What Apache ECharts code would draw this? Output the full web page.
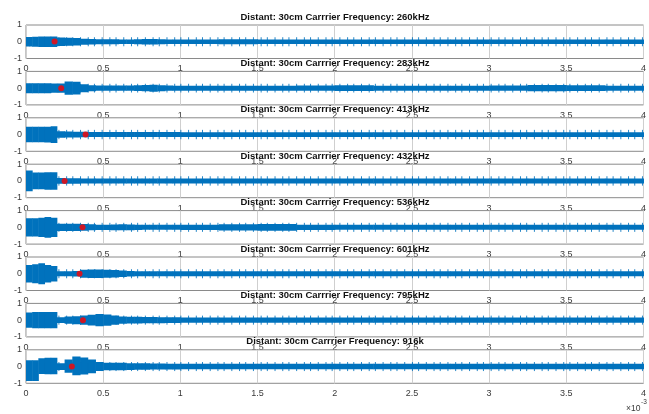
<!DOCTYPE html>
<html>
<head>
<meta charset="utf-8">
<script src="https://cdn.jsdelivr.net/npm/echarts@6/dist/echarts.min.js"></script>
<style>html,body{margin:0;padding:0;background:#fff}#c{width:649px;height:414px}</style>
</head>
<body>
<div id="c"></div>
<script>
// ---- data (time in units of 1e-3 s) ----
const titles = [
  'Distant: 30cm Carrrier Frequency: 260kHz',
  'Distant: 30cm Carrrier Frequency: 283kHz',
  'Distant: 30cm Carrrier Frequency: 413kHz',
  'Distant: 30cm Carrrier Frequency: 432kHz',
  'Distant: 30cm Carrrier Frequency: 536kHz',
  'Distant: 30cm Carrrier Frequency: 601kHz',
  'Distant: 30cm Carrrier Frequency: 795kHz',
  'Distant: 30cm Carrrier Frequency: 916k'
];
const xTicks = [0, 0.5, 1, 1.5, 2, 2.5, 3, 3.5, 4];
const yTicks = [-1, 0, 1];
// envelope segment edges
const tEdges = [0,0.04,0.08,0.12,0.16,0.2,0.25,0.3,0.35,0.4,0.45,0.5,0.55,0.6,0.65,0.7,0.75,0.8,0.85,0.9,0.95,1.0,1.25,1.5,1.75,2.0,2.25,2.5,2.75,3.0,3.25,3.5,3.75,4.0];
// upper envelope (half amplitude) per segment
const env260 = [0.28,0.30,0.32,0.32,0.32,0.26,0.24,0.22,0.18,0.16,0.15,0.15,0.15,0.14,0.14,0.15,0.17,0.17,0.15,0.14,0.14,0.14,0.15,0.14,0.14,0.13,0.13,0.14,0.14,0.14,0.14,0.14,0.14];
const env283 = [0.30,0.30,0.30,0.30,0.28,0.28,0.40,0.38,0.24,0.18,0.16,0.16,0.16,0.16,0.16,0.17,0.19,0.21,0.18,0.16,0.15,0.15,0.15,0.15,0.16,0.17,0.15,0.15,0.15,0.16,0.19,0.17,0.15];
const env413 = [0.46,0.46,0.46,0.47,0.50,0.19,0.18,0.17,0.16,0.15,0.15,0.15,0.15,0.15,0.15,0.15,0.15,0.15,0.15,0.15,0.15,0.14,0.14,0.14,0.14,0.14,0.14,0.14,0.14,0.14,0.14,0.14,0.14];
const env432 = [0.62,0.50,0.50,0.52,0.52,0.17,0.16,0.16,0.15,0.15,0.15,0.15,0.15,0.15,0.15,0.15,0.15,0.15,0.15,0.15,0.15,0.15,0.15,0.15,0.15,0.15,0.15,0.15,0.15,0.15,0.15,0.15,0.15];
const env536 = [0.54,0.54,0.57,0.62,0.57,0.22,0.22,0.22,0.20,0.18,0.16,0.16,0.17,0.18,0.17,0.16,0.15,0.15,0.15,0.15,0.15,0.16,0.19,0.20,0.16,0.15,0.15,0.15,0.15,0.15,0.15,0.15,0.15];
const env601 = [0.52,0.57,0.62,0.52,0.47,0.15,0.15,0.16,0.24,0.26,0.26,0.24,0.22,0.19,0.17,0.15,0.15,0.15,0.15,0.15,0.15,0.15,0.15,0.15,0.15,0.15,0.15,0.15,0.15,0.15,0.15,0.15,0.15];
const env795 = [0.46,0.48,0.48,0.48,0.48,0.17,0.22,0.24,0.28,0.32,0.36,0.34,0.28,0.22,0.20,0.20,0.19,0.19,0.18,0.17,0.17,0.16,0.16,0.16,0.16,0.16,0.16,0.16,0.16,0.16,0.16,0.16,0.16];
const env916 = [0.37,0.37,0.50,0.52,0.52,0.20,0.42,0.60,0.54,0.42,0.27,0.22,0.22,0.22,0.20,0.19,0.19,0.18,0.18,0.17,0.17,0.16,0.16,0.16,0.16,0.16,0.16,0.16,0.16,0.16,0.16,0.16,0.16];
// lower envelope where the band is not symmetric
const low916 = [-0.87,-0.87,-0.44,-0.46,-0.46,-0.20,-0.37,-0.52,-0.47,-0.40,-0.27,-0.22,-0.22,-0.22,-0.20,-0.19,-0.19,-0.18,-0.18,-0.17,-0.17,-0.16,-0.16,-0.16,-0.16,-0.16,-0.16,-0.16,-0.16,-0.16,-0.16,-0.16,-0.16];
const envelopes = [env260, env283, env413, env432, env536, env601, env795, env916];
const lowers = [null, null, null, null, null, null, null, low916];
// positions of the recurring spikes
const spikeT = [0.02,0.07,0.12,0.16,0.21,0.26,0.30,0.35,0.40,0.44,0.49,0.54,0.58,0.63,0.68,0.72,0.77,0.82,0.86,0.91,0.96,1.00,1.05,1.10,1.14,1.19,1.24,1.28,1.33,1.38,1.42,1.47,1.52,1.56,1.61,1.66,1.70,1.75,1.80,1.84,1.89,1.94,1.98,2.03,2.08,2.12,2.17,2.22,2.26,2.31,2.36,2.40,2.45,2.50,2.54,2.59,2.64,2.68,2.73,2.78,2.82,2.87,2.92,2.96,3.01,3.06,3.10,3.15,3.20,3.24,3.29,3.34,3.38,3.43,3.48,3.52,3.57,3.62,3.66,3.71,3.76,3.80,3.85,3.90,3.94,3.99];
const spikeAmp = [0.27, 0.26, 0.28, 0.28, 0.27, 0.27, 0.27, 0.27];
// red markers
const markX = [0.185, 0.228, 0.386, 0.25, 0.366, 0.347, 0.369, 0.297];
const markY = [0.02, 0.0, 0.0, 0.0, 0.0, 0.0, 0.0, 0.0];

// ---- chart ----
const chart = echarts.init(document.getElementById('c'));
const FONT = 'Liberation Sans, Arial, Helvetica, sans-serif';
const BLUE = '#0072BD';
const LEFT = 26, WIDTH = 618, H = 33.5, TOP0 = 25, STEP = 46.4;
const grid = [], xAxis = [], yAxis = [], series = [], title = [];

for (let i = 0; i < 8; i++) {
  const top = TOP0 + STEP * i;
  const zb = 10 + 10 * i;
  grid.push({left: LEFT, top: top, width: WIDTH, height: H, show: true,
    backgroundColor: '#fff', borderColor: '#8a8a8a', borderWidth: 1, z: zb});
  xAxis.push({type: 'value', gridIndex: i, min: xTicks[0], max: xTicks[xTicks.length - 1],
    interval: xTicks[1] - xTicks[0], z: zb + 1,
    axisLine: {show: false}, axisTick: {show: false},
    splitLine: {show: true, lineStyle: {color: '#cfcfcf', width: 1}},
    axisLabel: {show: true, margin: 6, fontSize: 9, color: '#3a3a3a', fontFamily: FONT,
      formatter: v => String(v)}});
  yAxis.push({type: 'value', gridIndex: i, min: yTicks[0], max: yTicks[yTicks.length - 1],
    interval: 1, z: zb + 1,
    axisLine: {show: false}, axisTick: {show: false}, splitLine: {show: false},
    axisLabel: {show: true, margin: 4, fontSize: 9, color: '#3a3a3a', fontFamily: FONT}});
  const hi = envelopes[i];
  const lo = lowers[i];
  const segs = hi.map((a, k) => [tEdges[k], tEdges[k + 1], a, lo ? lo[k] : -a]);
  series.push({type: 'custom', xAxisIndex: i, yAxisIndex: i, z: zb + 2, clip: true,
    encode: {x: [0, 1], y: [2, 3]}, data: segs, silent: true,
    renderItem: (params, api) => {
      const p0 = api.coord([api.value(0), api.value(2)]);
      const p1 = api.coord([api.value(1), api.value(3)]);
      return {type: 'rect', shape: {x: p0[0], y: p0[1], width: p1[0] - p0[0] + 0.5, height: p1[1] - p0[1]},
        style: {fill: BLUE}};
    }});
  const sa = spikeAmp[i];
  series.push({type: 'custom', xAxisIndex: i, yAxisIndex: i, z: zb + 2, clip: true,
    encode: {x: 0, y: [1, 2]}, data: spikeT.map(t => [t, sa, -sa]), silent: true,
    renderItem: (params, api) => {
      const p0 = api.coord([api.value(0), api.value(1)]);
      const p1 = api.coord([api.value(0), api.value(2)]);
      return {type: 'line', shape: {x1: p0[0] + 0.5, y1: p0[1], x2: p1[0] + 0.5, y2: p1[1]},
        style: {stroke: BLUE, lineWidth: 1, opacity: 0.85}};
    }});
  series.push({type: 'scatter', xAxisIndex: i, yAxisIndex: i, z: zb + 3,
    symbol: 'circle', symbolSize: 6, itemStyle: {color: '#ff0000'},
    data: [[markX[i], markY[i]]], silent: true});
  title.push({text: titles[i], left: LEFT + WIDTH / 2, top: top - 13, textAlign: 'center',
    z: 300, padding: 0,
    textStyle: {fontSize: 9.5, fontWeight: 'bold', color: '#111', fontFamily: FONT}});
}

chart.setOption({
  animation: false,
  backgroundColor: '#fff',
  title: title,
  grid: grid, xAxis: xAxis, yAxis: yAxis, series: series,
  graphic: [
    {type: 'text', left: 626, top: 404, z: 300, style: {text: '×10', fontSize: 8.5, fill: '#3a3a3a', fontFamily: FONT}},
    {type: 'text', left: 641, top: 399, z: 300, style: {text: '-3', fontSize: 6.5, fill: '#3a3a3a', fontFamily: FONT}}
  ]
});
</script>
</body>
</html>
